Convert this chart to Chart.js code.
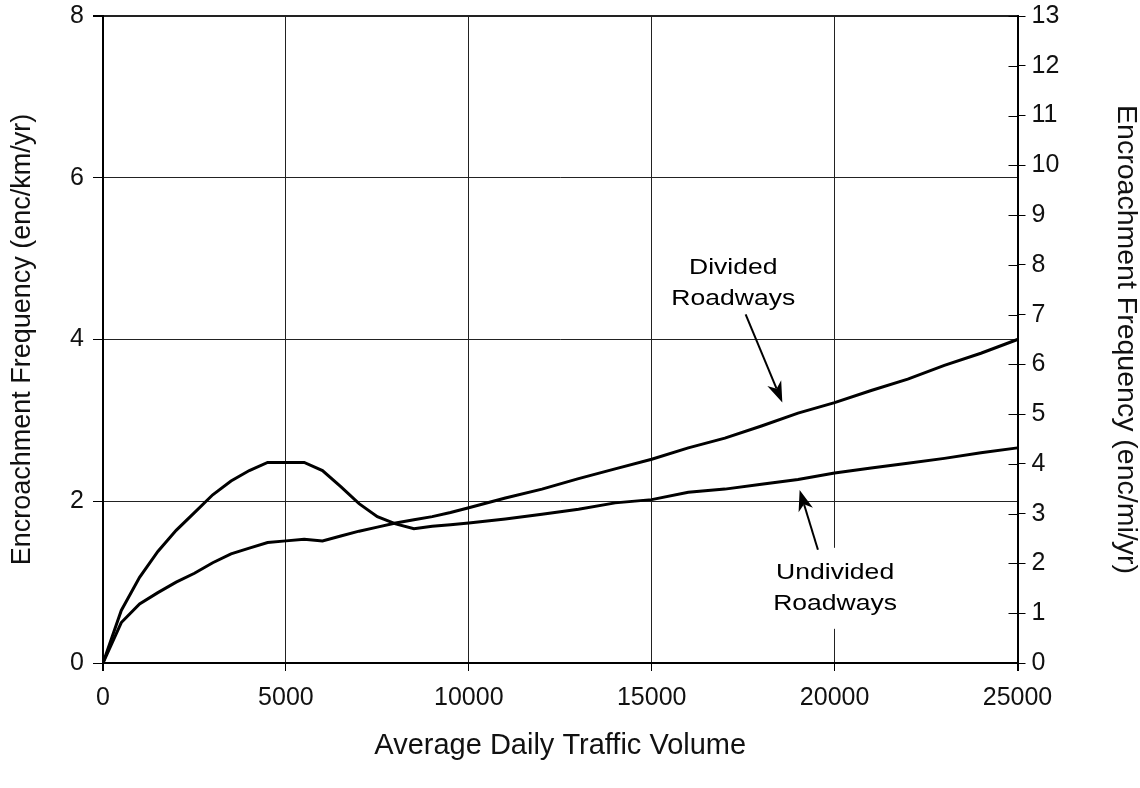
<!DOCTYPE html>
<html>
<head>
<meta charset="utf-8">
<title>Encroachment Frequency vs ADT</title>
<script src="https://cdn.jsdelivr.net/npm/chart.js@4.4.1/dist/chart.umd.min.js"></script>
<style>
  html, body { margin: 0; padding: 0; background: #ffffff; }
  #wrap { width: 1140px; height: 788px; }
</style>
</head>
<body>
<div id="wrap"><canvas id="chart" width="1140" height="788"></canvas></div>
<script>
// Average daily traffic (vehicles/day)
const adt = [0, 500, 1000, 1500, 2000, 2500, 3000, 3500, 4000, 4500, 5000, 5500, 6000, 6500,
  7000, 7500, 8000, 8500, 9000, 9500, 10000, 11000, 12000, 13000, 14000, 15000, 16000,
  17000, 18000, 19000, 20000, 21000, 22000, 23000, 24000, 25000];

// Encroachment frequency (enc/km/yr)
const dividedKm = [0, 0.50, 0.73, 0.87, 1.00, 1.11, 1.24, 1.35, 1.42, 1.49, 1.51, 1.53, 1.51, 1.57,
  1.63, 1.68, 1.73, 1.77, 1.81, 1.86, 1.92, 2.04, 2.15, 2.28, 2.40, 2.52, 2.66,
  2.78, 2.93, 3.09, 3.22, 3.37, 3.51, 3.68, 3.83, 4.00];
const undividedKm = [0, 0.65, 1.06, 1.38, 1.64, 1.86, 2.08, 2.25, 2.38, 2.48, 2.48, 2.48, 2.38, 2.18,
  1.97, 1.81, 1.72, 1.66, 1.69, 1.71, 1.73, 1.78, 1.84, 1.90, 1.98, 2.02, 2.11,
  2.15, 2.21, 2.27, 2.35, 2.41, 2.47, 2.53, 2.60, 2.66];

// Tick labels
const xTicks = [0, 5000, 10000, 15000, 20000, 25000];
const kmTicks = [0, 2, 4, 6, 8];
const miTicks = [0, 1, 2, 3, 4, 5, 6, 7, 8, 9, 10, 11, 12, 13];

// Callout labels with their arrows, in data units
const callouts = [
  { lines: ['Divided', 'Roadways'], x: 17230, y: 4.89, backdrop: false,
    from: [17568, 4.31], to: [18571, 3.22] },
  { lines: ['Undivided', 'Roadways'], x: 20014, y: 1.115, backdrop: true,
    from: [19544, 1.40], to: [19044, 2.14] }
];

const FONT = '"Liberation Sans", Arial, Helvetica, sans-serif';
const INK = '#111111';

const toPoints = (ys) => adt.map((x, i) => ({ x: x, y: ys[i] }));

// Short tick marks on the inside of the right-hand axis
const innerTicks = {
  id: 'innerTicks',
  beforeDatasetsDraw(chart) {
    const s = chart.scales.y2;
    const ctx = chart.ctx;
    ctx.save();
    ctx.strokeStyle = '#000';
    ctx.lineWidth = 1;
    s.ticks.forEach(t => {
      const y = Math.round(s.getPixelForValue(t.value)) + 0.5;
      ctx.beginPath();
      ctx.moveTo(s.left - 9, y);
      ctx.lineTo(s.left, y);
      ctx.stroke();
    });
    ctx.restore();
  }
};

function drawArrow(ctx, x0, y0, x1, y1) {
  const ang = Math.atan2(y1 - y0, x1 - x0);
  const len = 21, half = 7.5, notch = 15;
  const ux = Math.cos(ang), uy = Math.sin(ang);
  const px = -uy, py = ux;
  const bx = x1 - ux * notch, by = y1 - uy * notch;
  ctx.beginPath();
  ctx.moveTo(x0, y0);
  ctx.lineTo(bx, by);
  ctx.stroke();
  ctx.beginPath();
  ctx.moveTo(x1, y1);
  ctx.lineTo(x1 - ux * len + px * half, y1 - uy * len + py * half);
  ctx.lineTo(bx, by);
  ctx.lineTo(x1 - ux * len - px * half, y1 - uy * len - py * half);
  ctx.closePath();
  ctx.fill();
}

const calloutPlugin = {
  id: 'callouts',
  afterDatasetsDraw(chart) {
    const ctx = chart.ctx;
    const xs = chart.scales.x, ys = chart.scales.y;
    const stretch = 1.18, step = 31;
    ctx.save();
    ctx.font = '22.5px ' + FONT;
    ctx.textAlign = 'center';
    ctx.textBaseline = 'middle';
    callouts.forEach(c => {
      const cx = xs.getPixelForValue(c.x);
      const cy = ys.getPixelForValue(c.y);
      if (c.backdrop) {
        const w = Math.max(...c.lines.map(l => ctx.measureText(l).width)) * stretch + 8;
        const h = step * (c.lines.length - 1) + 50;
        ctx.fillStyle = '#ffffff';
        ctx.fillRect(cx - w / 2, cy - 25, w, h);
      }
      ctx.fillStyle = '#000';
      c.lines.forEach((l, i) => {
        ctx.save();
        ctx.translate(cx, cy + i * step);
        ctx.scale(stretch, 1);
        ctx.fillText(l, 0, 0);
        ctx.restore();
      });
      ctx.strokeStyle = '#000';
      ctx.lineWidth = 2;
      drawArrow(ctx,
        xs.getPixelForValue(c.from[0]), ys.getPixelForValue(c.from[1]),
        xs.getPixelForValue(c.to[0]), ys.getPixelForValue(c.to[1]));
    });
    ctx.restore();
  }
};

const lineStyle = {
  borderColor: '#000',
  borderWidth: 3,
  pointRadius: 0,
  tension: 0,
  fill: false,
  yAxisID: 'y'
};

// Fixed axis sizes so the plot frame sits where it should
const fixVertical = w => s => { s.width = w; s.paddingTop = 0; s.paddingBottom = 0; };
const fixHorizontal = h => s => { s.height = h; s.paddingLeft = 0; s.paddingRight = 0; };

new Chart(document.getElementById('chart'), {
  type: 'line',
  data: {
    datasets: [
      Object.assign({ label: 'Divided Roadways', data: toPoints(dividedKm) }, lineStyle),
      Object.assign({ label: 'Undivided Roadways', data: toPoints(undividedKm) }, lineStyle)
    ]
  },
  options: {
    responsive: false,
    animation: false,
    devicePixelRatio: 1,
    layout: { padding: { top: 16, left: 0, right: 0, bottom: 0 }, autoPadding: false },
    plugins: { legend: { display: false }, tooltip: { enabled: false } },
    scales: {
      x: {
        type: 'linear',
        position: 'bottom',
        min: 0, max: 25000,
        afterBuildTicks: s => { s.ticks = xTicks.map(v => ({ value: v })); },
        afterFit: fixHorizontal(125),
        ticks: { callback: v => String(v), color: INK, padding: 12,
          font: { family: FONT, size: 25 }, maxRotation: 0, autoSkip: false },
        grid: { color: '#222', tickColor: '#000', tickLength: 8,
          lineWidth: c => (c.tick && (c.tick.value === 0 || c.tick.value === 25000)) ? 2 : 1 },
        border: { display: true, color: '#000', width: 2 },
        title: { display: true, text: 'Average Daily Traffic Volume', color: INK,
          font: { family: FONT, size: 29, lineHeight: 1 }, padding: { top: 0, bottom: 28 } }
      },
      y: {
        type: 'linear',
        position: 'left',
        min: 0, max: 8,
        afterBuildTicks: s => { s.ticks = kmTicks.map(v => ({ value: v })); },
        afterFit: fixVertical(103),
        ticks: { color: INK, padding: 9, font: { family: FONT, size: 25 } },
        grid: { color: '#222', tickColor: '#000', tickLength: 10,
          lineWidth: c => (c.tick && c.tick.value === 8) ? 2 : 1 },
        border: { display: true, color: '#000', width: 2 },
        title: { display: true, text: 'Encroachment Frequency (enc/km/yr)', color: INK,
          font: { family: FONT, size: 27, lineHeight: 1 }, padding: { top: 9, bottom: 0 } }
      },
      y2: {
        type: 'linear',
        position: 'right',
        min: 0, max: 13,
        afterBuildTicks: s => { s.ticks = miTicks.map(v => ({ value: v })); },
        afterFit: fixVertical(122.5),
        ticks: { color: INK, padding: 6, font: { family: FONT, size: 25 } },
        grid: { drawOnChartArea: false, tickColor: '#000', tickLength: 8 },
        border: { display: true, color: '#000', width: 2 },
        title: { display: true, text: 'Encroachment Frequency (enc/mi/yr)', color: INK,
          font: { family: FONT, size: 28.5, lineHeight: 1 }, padding: { top: 0, bottom: 0 } }
      }
    }
  },
  plugins: [innerTicks, calloutPlugin]
});
</script>
</body>
</html>
